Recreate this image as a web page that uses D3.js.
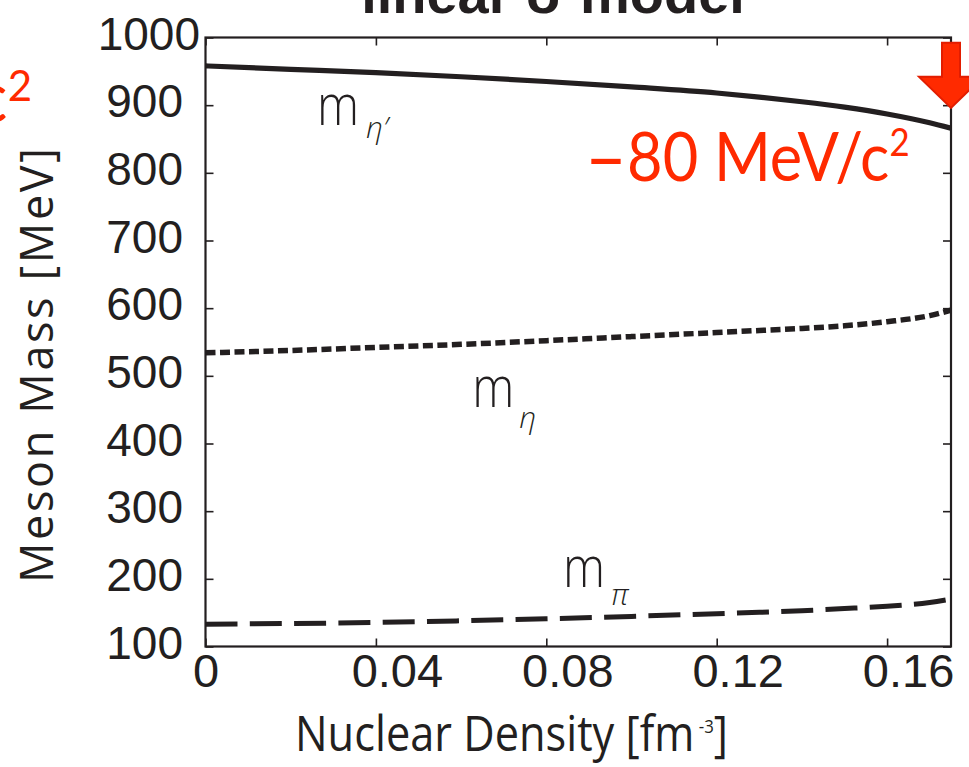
<!DOCTYPE html>
<html>
<head>
<meta charset="utf-8">
<script src="https://cdn.jsdelivr.net/npm/d3@7"></script>
<style>
  html, body { margin: 0; padding: 0; background: #fff; overflow: hidden; }
  svg { display: block; }
</style>
</head>
<body>
<svg id="chart" width="969" height="767"></svg>
<script>
// Meson masses in the linear sigma model as a function of nuclear density
const density      = [0, 0.02, 0.04, 0.06, 0.08, 0.10, 0.12, 0.13, 0.14, 0.15, 0.16, 0.17, 0.175];
const etaPrimeMass = [958, 953, 948, 942, 935, 927, 918, 912, 905, 897, 887, 874, 866];
const etaMass      = [534, 537.5, 542, 546.5, 552, 558, 564, 567, 570, 574, 580, 589, 597];
const pionMass     = [133, 134, 135.5, 138, 141, 144.5, 148.5, 150.5, 153, 156, 159.5, 165, 170];

const xTicks = [0, 0.04, 0.08, 0.12, 0.16];
const xTickLabels = ["0", "0.04", "0.08", "0.12", "0.16"];
const yTicks = [100, 200, 300, 400, 500, 600, 700, 800, 900, 1000];
const yTickLabels = ["100", "200", "300", "400", "500", "600", "700", "800", "900", "1000"];

const INK = "#231f20";
const RED = "#ff2a00";

const svg = d3.select("#chart");

const x = d3.scaleLinear().domain([0, 0.175]).range([205.5, 951]);
const y = d3.scaleLinear().domain([100, 1000]).range([646.5, 37.5]);

// horizontally squeeze a text node so that it spans the given width, keeping its start fixed
function fitWidth(node, width, x0) {
  const w = node.getBBox().width;
  const k = width / w;
  d3.select(node).attr("transform", `translate(${x0},0) scale(${k},1) translate(${-x0},0)`);
}

// title (mostly above the visible area)
svg.append("text")
  .attr("x", 553).attr("y", 13)
  .attr("text-anchor", "middle")
  .attr("font-family", "'Liberation Sans', Arial, sans-serif")
  .attr("font-weight", "bold")
  .attr("font-size", 56)
  .attr("fill", INK)
  .text("linear σ model");

// curves, clipped to the plot frame
svg.append("clipPath").attr("id", "plotClip")
  .append("rect")
  .attr("x", x(0)).attr("y", y(1000))
  .attr("width", x(0.175) - x(0)).attr("height", y(100) - y(1000));

const series = [
  { values: etaPrimeMass, dash: null,     width: 5.2 },
  { values: etaMass,      dash: "10,4.5", width: 5.5 },
  { values: pionMass,     dash: "32,12.3", width: 5 }
];

const line = d3.line()
  .x((d, i) => x(density[i]))
  .y(d => y(d))
  .curve(d3.curveMonotoneX);

svg.append("g").attr("clip-path", "url(#plotClip)")
  .selectAll("path")
  .data(series)
  .join("path")
  .attr("d", s => line(s.values))
  .attr("fill", "none")
  .attr("stroke", INK)
  .attr("stroke-width", s => s.width)
  .attr("stroke-dasharray", s => s.dash);

// axes with inward ticks on all four sides
const tickFont = "'Liberation Sans', Arial, Helvetica, sans-serif";

const gx = svg.append("g")
  .attr("transform", `translate(0,${y(100)})`)
  .call(d3.axisBottom(x).tickValues(xTicks).tickSize(-8).tickSizeOuter(0).tickPadding(7)
    .tickFormat((d, i) => xTickLabels[i]));
gx.select(".domain").remove();
gx.selectAll(".tick line").attr("stroke", INK).attr("stroke-width", 1.6);
gx.selectAll(".tick text")
  .attr("font-family", tickFont).attr("font-size", 47).attr("fill", INK)
  .attr("dx", d => d === 0 ? 0 : 21);

const gy = svg.append("g")
  .attr("transform", `translate(${x(0)},0)`)
  .call(d3.axisLeft(y).tickValues(yTicks).tickSize(-8).tickSizeOuter(0).tickPadding(22.5)
    .tickFormat((d, i) => yTickLabels[i]));
gy.select(".domain").remove();
gy.selectAll(".tick line").attr("stroke", INK).attr("stroke-width", 1.6);
gy.selectAll(".tick text")
  .attr("font-family", tickFont).attr("font-size", 46).attr("fill", INK)
  .attr("dy", "0.25em")
  .attr("dx", d => d === 1000 ? 17 : 0);

const gt = svg.append("g")
  .attr("transform", `translate(0,${y(1000)})`)
  .call(d3.axisTop(x).tickValues(xTicks).tickSize(-8).tickSizeOuter(0).tickFormat(""));
gt.select(".domain").remove();
gt.selectAll(".tick line").attr("stroke", INK).attr("stroke-width", 1.6);

const gr = svg.append("g")
  .attr("transform", `translate(${x(0.175)},0)`)
  .call(d3.axisRight(y).tickValues(yTicks).tickSize(-8).tickSizeOuter(0).tickFormat(""));
gr.select(".domain").remove();
gr.selectAll(".tick line").attr("stroke", INK).attr("stroke-width", 1.6);

svg.append("rect")
  .attr("x", x(0)).attr("y", y(1000))
  .attr("width", x(0.175) - x(0)).attr("height", y(100) - y(1000))
  .attr("fill", "none").attr("stroke", INK).attr("stroke-width", 2.2);

// axis titles
const xTitle = svg.append("text")
  .attr("x", 295).attr("y", 751.5)
  .attr("font-family", "'Open Sans', 'Noto Sans', sans-serif")
  .attr("font-size", 49)
  .attr("fill", INK);
xTitle.append("tspan").text("Nuclear Density [fm");
xTitle.append("tspan").attr("font-size", 19).attr("dy", -18).text(" -3");
xTitle.append("tspan").attr("dy", 18).text("]");
fitWidth(xTitle.node(), 433, 295);

svg.append("text")
  .attr("transform", "translate(53,365.5) rotate(-90)")
  .attr("text-anchor", "middle")
  .attr("font-family", "'Open Sans', 'Noto Sans', sans-serif")
  .attr("font-size", 45)
  .attr("fill", INK)
  .attr("textLength", 435)
  .attr("lengthAdjust", "spacing")
  .text("Meson Mass [MeV]");

// curve labels: m with a Greek subscript
const curveLabels = [
  { xv: 0.0262, yv: 871, sub: "η′", subDx: 49, subDy: 13 },
  { xv: 0.0626, yv: 454, sub: "η",  subDx: 47, subDy: 21 },
  { xv: 0.0839, yv: 188, sub: "π",  subDx: 48, subDy: 18 }
];
const labelFont = "'Open Sans', 'Noto Sans', sans-serif";
curveLabels.forEach(l => {
  const px = x(l.xv), py = y(l.yv);
  const m = svg.append("text")
    .attr("x", px).attr("y", py)
    .attr("font-family", labelFont).attr("font-weight", 300)
    .attr("font-size", 57).attr("fill", INK)
    .text("m");
  fitWidth(m.node(), 42, px);
  svg.append("text")
    .attr("x", px + l.subDx).attr("y", py + l.subDy)
    .attr("font-family", labelFont).attr("font-weight", 300)
    .attr("font-style", "italic")
    .attr("font-size", 30).attr("fill", INK)
    .text(l.sub);
});

// red annotations
const redFont = "Lato, 'Open Sans', sans-serif";
const shift = svg.append("text")
  .attr("x", x(0.089)).attr("y", y(788))
  .attr("font-family", redFont).attr("font-size", 67).attr("fill", RED);
shift.append("tspan").attr("font-size", 80).attr("dy", 4).text("–");
shift.append("tspan").attr("dy", -4).text("80 MeV/c");
shift.append("tspan").attr("font-size", 38).attr("dy", -25).text("2");
fitWidth(shift.node(), 325, x(0.089));

const leftNote = svg.append("text")
  .attr("x", 32).attr("y", 122)
  .attr("text-anchor", "end")
  .attr("font-family", redFont).attr("font-size", 72).attr("fill", RED);
leftNote.append("tspan").text("c");
leftNote.append("tspan").attr("font-size", 42).attr("dy", -21).text("2");

// downward arrow marking the mass drop at normal nuclear density
const ax = x(0.175), tipY = y(896);
const shaftHalf = 9, headHalf = 32, headLen = 31, totalLen = 65;
const arrowPts = [
  [ax - shaftHalf, tipY - totalLen],
  [ax + shaftHalf, tipY - totalLen],
  [ax + shaftHalf, tipY - headLen],
  [ax + headHalf,  tipY - headLen],
  [ax,             tipY],
  [ax - headHalf,  tipY - headLen],
  [ax - shaftHalf, tipY - headLen]
];
svg.append("polygon")
  .attr("points", arrowPts.map(p => p.join(",")).join(" "))
  .attr("fill", RED)
  .attr("stroke", "#e21d00")
  .attr("stroke-width", 2)
  .attr("stroke-linejoin", "miter");
</script>
</body>
</html>
